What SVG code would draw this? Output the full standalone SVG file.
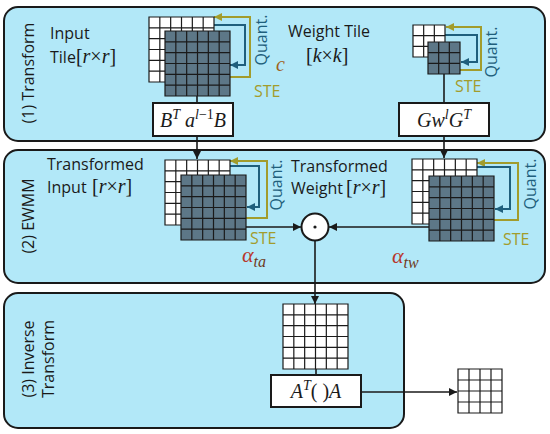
<svg xmlns="http://www.w3.org/2000/svg" xmlns:xlink="http://www.w3.org/1999/xlink" width="550" height="434" viewBox="0 0 550 434">
<style>
.panel{fill:#b2e8f8;stroke:#1a1a1a;stroke-width:2}
.box{fill:#ffffff;stroke:#1a1a1a;stroke-width:2}
.gl{fill:none;stroke:#1a1a1a;stroke-width:1.2}
.lbl{font-family:"Open Sans","Noto Sans",sans-serif;font-size:16px;fill:#1a1a1a}
.q{font-family:"Open Sans","Noto Sans",sans-serif;font-size:16px;fill:#1f5f7c}
.ste{font-family:"Open Sans","Noto Sans",sans-serif;font-size:16px;fill:#a29c2c}
.m{font-family:"Liberation Serif","DejaVu Serif",serif;font-size:20px;fill:#1a1a1a}
.it{font-style:italic}
.con{fill:none;stroke:#1a1a1a;stroke-width:1.6}
.ol{fill:none;stroke:#a29c2c;stroke-width:2}
.bl{fill:none;stroke:#1f5f7c;stroke-width:2}
.al{font-family:"Liberation Serif","DejaVu Serif",serif;font-style:italic;font-size:22px;fill:#b8372b}
.sub{fill:#6e3b1e;font-size:16px}
</style>
<defs>
<marker id="ak" markerUnits="userSpaceOnUse" markerWidth="8" markerHeight="8" refX="8" refY="4" orient="auto"><path d="M0,0L8,4L0,8z" fill="#1a1a1a"/></marker>
<marker id="ao" markerUnits="userSpaceOnUse" markerWidth="8" markerHeight="8" refX="8" refY="4" orient="auto"><path d="M0,0L8,4L0,8z" fill="#a29c2c"/></marker>
<marker id="ab" markerUnits="userSpaceOnUse" markerWidth="8" markerHeight="8" refX="8" refY="4" orient="auto"><path d="M0,0L8,4L0,8z" fill="#1f5f7c"/></marker>
<g id="g6w"><rect width="65" height="65" fill="#ffffff"/><path class="gl" d="M0,0H65V65H0Z M10.83,0V65 M21.67,0V65 M32.5,0V65 M43.33,0V65 M54.17,0V65 M0,10.83H65 M0,21.67H65 M0,32.5H65 M0,43.33H65 M0,54.17H65"/></g>
<g id="g6d"><rect width="65" height="65" fill="#5d7787"/><path class="gl" stroke-width="1.5" d="M0,0H65V65H0Z M10.83,0V65 M21.67,0V65 M32.5,0V65 M43.33,0V65 M54.17,0V65 M0,10.83H65 M0,21.67H65 M0,32.5H65 M0,43.33H65 M0,54.17H65"/></g>
<g id="g3w"><rect width="32" height="32" fill="#ffffff"/><path class="gl" d="M0,0H32V32H0Z M10.67,0V32 M21.33,0V32 M0,10.67H32 M0,21.33H32"/></g>
<g id="g3d"><rect width="32" height="32" fill="#5d7787"/><path class="gl" stroke-width="1.5" d="M0,0H32V32H0Z M10.67,0V32 M21.33,0V32 M0,10.67H32 M0,21.33H32"/></g>
<g id="g4w"><rect width="44" height="44" fill="#ffffff"/><path class="gl" d="M0,0H44V44H0Z M11,0V44 M22,0V44 M33,0V44 M0,11H44 M0,22H44 M0,33H44"/></g>
</defs>

<g id="panel1">
<rect class="panel" x="4" y="7" width="541" height="134" rx="14"/>
<text class="lbl" transform="translate(34,73) rotate(-90)" text-anchor="middle">(1) Transform</text>
</g>
<g id="panel2">
<rect class="panel" x="4" y="150" width="541" height="133" rx="14"/>
<text class="lbl" transform="translate(34,216) rotate(-90)" text-anchor="middle">(2) EWMM</text>
</g>
<g id="panel3">
<rect class="panel" x="4" y="293" width="400" height="135" rx="14"/>
<text class="lbl" transform="translate(34,359) rotate(-90)" text-anchor="middle">(3) Inverse</text>
<text class="lbl" transform="translate(54,359) rotate(-90)" text-anchor="middle">Transform</text>
</g>

<g id="connectors">
<path class="con" d="M197,96V103"/>
<path class="con" d="M197,136V159" marker-end="url(#ak)"/>
<path class="con" d="M444,74V103"/>
<path class="con" d="M444,136V158" marker-end="url(#ak)"/>
<path class="con" d="M246,227H301" marker-end="url(#ak)"/>
<path class="con" d="M429,227H329" marker-end="url(#ak)"/>
<path class="con" d="M315,241V304" marker-end="url(#ak)"/>
<path class="con" d="M316,369V375"/>
<path class="con" d="M361,392H457" marker-end="url(#ak)"/>
<path class="ol" d="M229,77H250V17H214" marker-end="url(#ao)"/>
<path class="bl" d="M214,25H245V65H230" marker-end="url(#ab)"/>
<path class="ol" d="M460,70H481V27H446" marker-end="url(#ao)"/>
<path class="bl" d="M445,35H477V62H461" marker-end="url(#ab)"/>
<path class="ol" d="M246,218H267V161H230" marker-end="url(#ao)"/>
<path class="bl" d="M230,166H259V207H247" marker-end="url(#ab)"/>
<path class="ol" d="M494,220H518V163H477" marker-end="url(#ao)"/>
<path class="bl" d="M477,167H510V209H495" marker-end="url(#ab)"/>
</g>

<g id="input-tile">
<use xlink:href="#g6w" x="149" y="17"/>
<use xlink:href="#g6d" x="165" y="31"/>
<text class="lbl" x="50" y="39">Input</text>
<text class="lbl" x="50" y="63">Tile<tspan class="m" font-size="21">[<tspan class="it">r</tspan>×<tspan class="it">r</tspan>]</tspan></text>
<text class="q" transform="translate(267,40) rotate(-90)" text-anchor="middle">Quant.</text>
<text class="ste" x="254" y="97">STE</text>
<text class="m it" x="276" y="71" style="fill:#a0621e" font-size="22">c</text>
</g>
<g id="input-transform">
<rect class="box" x="153" y="103" width="80" height="33"/>
<text class="m" x="193" y="127" text-anchor="middle" font-size="21"><tspan class="it">B</tspan><tspan class="it" font-size="14" dy="-8">T</tspan><tspan class="it" dy="8"> a</tspan><tspan font-size="14" dy="-8"><tspan class="it">l</tspan>−1</tspan><tspan class="it" dy="8">B</tspan></text>
</g>

<g id="weight-tile">
<use xlink:href="#g3w" x="413" y="25"/>
<use xlink:href="#g3d" x="428" y="42"/>
<text class="lbl" x="288" y="37">Weight Tile</text>
<text class="m" x="306" y="62" font-size="21">[<tspan class="it">k</tspan>×<tspan class="it">k</tspan>]</text>
<text class="q" transform="translate(497,52) rotate(-90)" text-anchor="middle">Quant.</text>
<text class="ste" x="455" y="92">STE</text>
</g>
<g id="weight-transform">
<rect class="box" x="399" y="103" width="90" height="33"/>
<text class="m" x="444" y="127" text-anchor="middle" font-size="21"><tspan class="it">Gw</tspan><tspan class="it" font-size="14" dy="-8">l</tspan><tspan class="it" dy="8">G</tspan><tspan class="it" font-size="14" dy="-8">T</tspan></text>
</g>

<g id="transformed-input">
<use xlink:href="#g6w" x="165" y="160"/>
<use xlink:href="#g6d" x="181" y="175"/>
<text class="lbl" x="47" y="170">Transformed</text>
<text class="lbl" x="47" y="193">Input</text>
<text class="m" x="92" y="193" font-size="21">[<tspan class="it">r</tspan>×<tspan class="it">r</tspan>]</text>
<text class="q" transform="translate(282,185) rotate(-90)" text-anchor="middle">Quant.</text>
<text class="ste" x="250" y="244">STE</text>
<text class="al" x="242" y="262">α<tspan class="sub" dy="5">ta</tspan></text>
</g>

<g id="transformed-weight">
<use xlink:href="#g6w" x="412" y="159"/>
<use xlink:href="#g6d" x="429" y="176"/>
<text class="lbl" x="291" y="172">Transformed</text>
<text class="lbl" x="291" y="194">Weight</text>
<text class="m" x="346" y="194" font-size="21">[<tspan class="it">r</tspan>×<tspan class="it">r</tspan>]</text>
<text class="q" transform="translate(536,184) rotate(-90)" text-anchor="middle">Quant.</text>
<text class="ste" x="503" y="245">STE</text>
<text class="al" x="392" y="263">α<tspan class="sub" dy="5">tw</tspan></text>
</g>

<g id="ewmm">
<circle cx="315" cy="227" r="13.5" fill="#ffffff" stroke="#1a1a1a" stroke-width="2"/>
<circle cx="315" cy="227" r="1.6" fill="#1a1a1a"/>
</g>

<g id="output-grid">
<use xlink:href="#g6w" x="283" y="304"/>
</g>
<g id="inverse-transform">
<rect class="box" x="271" y="375" width="90" height="32"/>
<text class="m" x="316" y="398" text-anchor="middle" font-size="21"><tspan class="it">A</tspan><tspan class="it" font-size="14" dy="-8">T</tspan><tspan dy="8">( )</tspan><tspan class="it">A</tspan></text>
</g>
<g id="result">
<use xlink:href="#g4w" x="458" y="369"/>
</g>
</svg>
